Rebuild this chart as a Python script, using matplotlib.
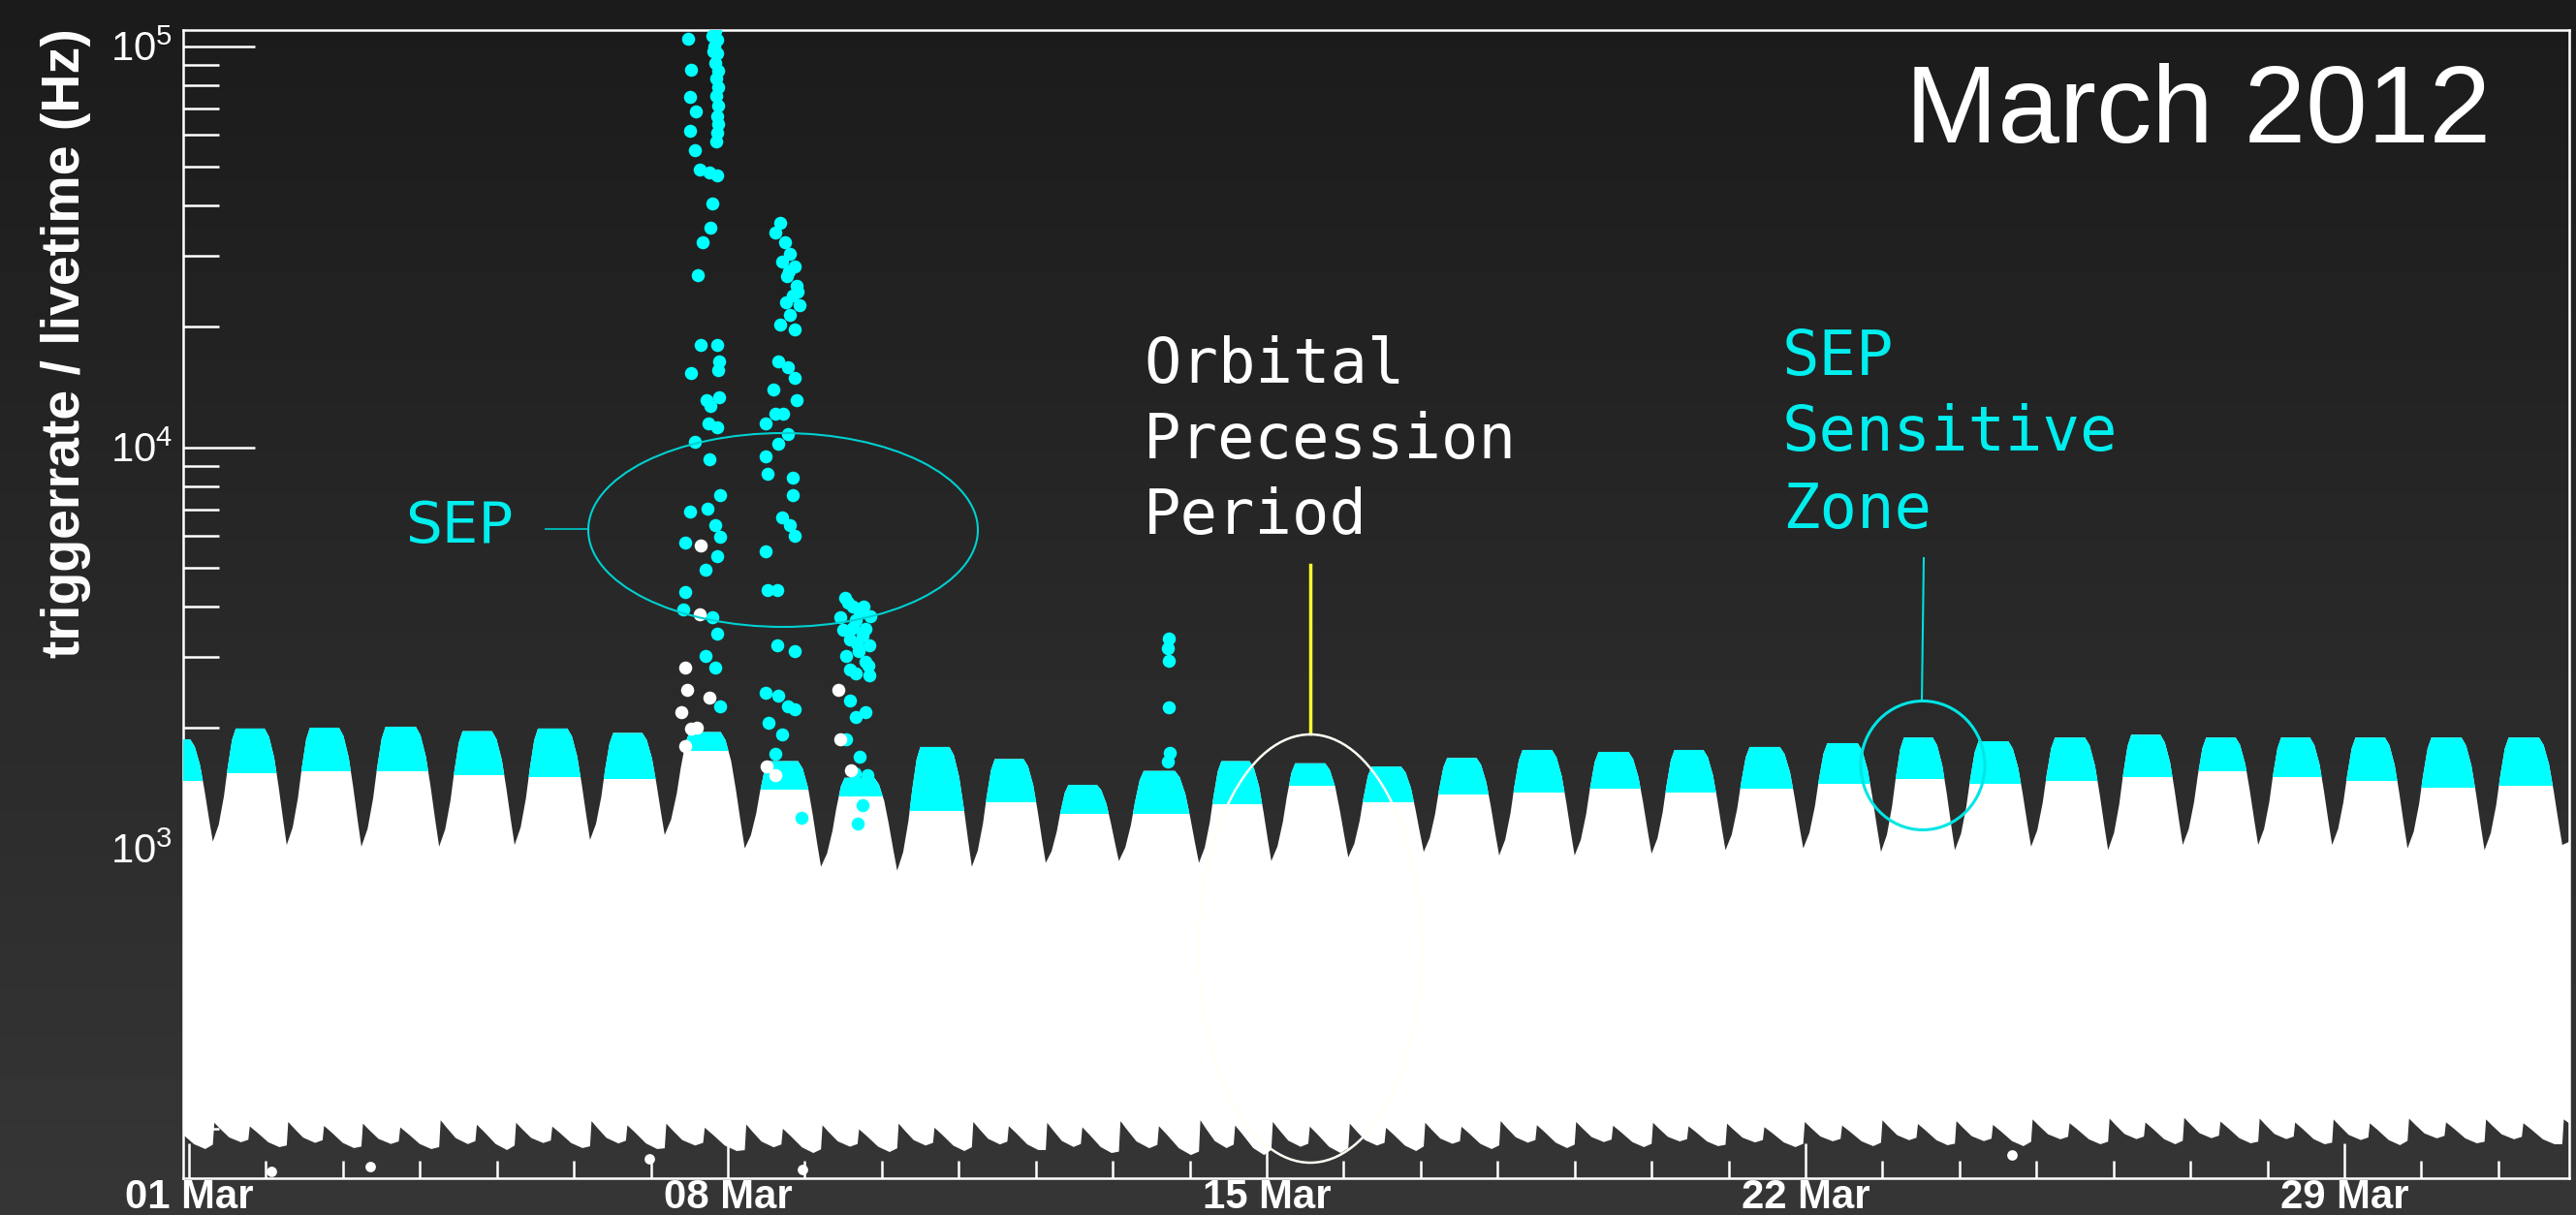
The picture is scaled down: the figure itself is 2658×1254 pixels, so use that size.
import numpy as np
import matplotlib
matplotlib.use('Agg')
import matplotlib.pyplot as plt
from matplotlib.patches import Ellipse, Polygon
from matplotlib.lines import Line2D
from matplotlib.colors import LinearSegmentedColormap
from matplotlib.ticker import FixedLocator, LogLocator, NullFormatter

plt.rcParams['font.family'] = 'Liberation Sans'
plt.rcParams['mathtext.fontset'] = 'custom'
plt.rcParams['mathtext.rm'] = 'Liberation Sans'
plt.rcParams['mathtext.it'] = 'Liberation Sans:italic'
plt.rcParams['mathtext.bf'] = 'Liberation Sans:bold'

W, H = 2658, 1254

# x = days since 01 Mar 2012 00:00, y = trigger rate / livetime in Hz
tick_days = [0, 7, 14, 21, 28]
tick_labels = ['01 Mar', '08 Mar', '15 Mar', '22 Mar', '29 Mar']
day_ticks = list(range(31))

# dips of the daily modulation (the first one lies left of the frame)
trough_day = [-0.67, 0.31, 1.27, 2.24, 3.25, 4.23, 5.21, 6.18, 7.22, 8.21, 9.20,
              10.17, 11.13, 12.08, 13.12, 14.06, 15.06, 16.04, 17.02, 18.00, 19.00,
              19.96, 20.97, 21.98, 22.94, 23.93, 24.93, 25.90, 26.88, 27.84, 28.82,
              29.82, 30.83]
trough_hz = [1040, 1040, 1020, 1010, 1010, 1020, 1050, 1080, 1000, 900, 880,
             900, 920, 930, 920, 930, 950, 980, 960, 960, 970,
             990, 1000, 980, 990, 1010, 990, 1020, 1020, 1020, 1000,
             990, 1020]
# one hump between two dips: top of the band and the level where it turns cyan
peak_hz = [1870, 1990, 2000, 2010, 1960, 1990, 1940, 1950, 1650, 1500, 1790,
           1670, 1440, 1560, 1650, 1630, 1600, 1680, 1760, 1740, 1760,
           1790, 1830, 1890, 1850, 1890, 1920, 1890, 1890, 1890, 1890, 1890]
cyan_hz = [1470, 1540, 1560, 1560, 1520, 1510, 1490, 1750, 1400, 1350, 1240,
           1300, 1220, 1220, 1290, 1430, 1300, 1360, 1380, 1410, 1380,
           1410, 1450, 1490, 1450, 1470, 1510, 1560, 1510, 1470, 1420, 1430]
# lower edge of the band
floor_hi = [205, 207, 208, 206, 210, 207, 209, 206, 205, 204, 206, 208, 207, 209, 210, 208,
            206, 207, 209, 208, 207, 206, 208, 210, 209, 211, 212, 213, 212, 211, 212, 211]
floor_lo = [178, 180, 179, 178, 177, 179, 178, 176, 174, 175, 176, 177, 174, 172, 172, 174,
            176, 178, 179, 180, 181, 180, 181, 182, 181, 183, 183, 184, 183, 182, 184, 183]

# solar energetic particle events (cyan points)
sep1_day = [6.84, 6.86, 6.82, 6.86, 6.84, 6.87, 6.85, 6.87, 6.85, 6.88, 6.86, 6.88, 6.86, 6.85,
            6.81, 6.80, 6.48, 6.52, 6.51, 6.59, 6.51, 6.57, 6.63, 6.76, 6.86, 6.80, 6.77, 6.67,
            6.61, 6.65, 6.86, 6.89, 6.52, 6.89, 6.77, 6.86, 6.57, 6.76, 6.90, 6.51, 6.74, 6.84,
            6.45, 6.90, 6.71, 6.86, 6.45, 6.42, 6.80, 6.86, 6.71, 6.84, 6.90, 6.88, 6.72, 6.75]
sep1_hz = [109000, 104000, 100000, 96000, 91000, 87000, 83000, 79000, 75000, 71000, 67000,
           64000, 61000, 58000, 97000, 106000, 104400, 87400, 74800, 68800, 61500, 55100,
           49300, 48500, 47600, 40600, 35300, 32500, 26900, 18000, 18000, 16400, 15300,
           13300, 12700, 11200, 10300, 9340, 7600, 6920, 7030, 6400, 5790, 5980, 4950, 5350,
           4360, 3940, 3770, 3430, 3020, 2820, 2260, 15600, 13100, 11500]
sep2_day = [7.68, 7.62, 7.74, 7.81, 7.87, 7.77, 7.89, 7.84, 7.93, 7.81, 7.68, 7.87, 7.71, 7.79,
            7.90, 7.75, 7.65, 7.78, 7.87, 7.59, 7.89, 7.62, 7.72, 7.49, 7.78, 7.49, 7.65, 7.52,
            7.84, 7.84, 7.70, 7.81, 7.87, 7.49, 7.52, 7.64, 7.64, 7.87, 7.49, 7.65, 7.78, 7.87,
            7.53, 7.70, 7.62, 7.74, 7.87, 7.96]
sep2_hz = [36300, 34300, 32500, 30400, 28300, 26700, 25300, 23900, 22600, 21400, 20200, 19700,
           29000, 27500, 24500, 23000, 16400, 15800, 14900, 13900, 13100, 12100, 12100, 11500,
           10800, 9500, 10200, 8600, 8400, 7600, 6700, 6400, 6000, 5500, 4400, 4400, 3200,
           3100, 2440, 2400, 2260, 2220, 2060, 1920, 1720, 1590, 1490, 1190]
sep3_day = [8.52, 8.62, 8.71, 8.79, 8.84, 8.79, 8.84, 8.46, 8.59, 8.54, 8.66, 8.59, 8.66, 8.79,
            8.54, 8.71, 8.65, 8.81, 8.59, 8.75, 8.69, 8.56, 8.66, 8.75, 8.70, 8.82, 8.50, 8.62,
            8.85, 8.76, 8.68, 8.58]
sep3_hz = [4210, 4010, 3900, 3530, 3210, 2920, 2700, 3770, 3320, 3020, 2730, 2340, 2130, 2190,
           1870, 1690, 1540, 1520, 1400, 1280, 1150, 4100, 3700, 3400, 3100, 2850, 3500, 3550,
           3800, 4000, 3250, 2800]
sep4_day = [12.73, 12.72, 12.73, 12.73, 12.74, 12.72]
sep4_hz = [3340, 3150, 2940, 2250, 1730, 1650]
# white points standing out of the band during the events
white_day = [6.65, 6.63, 6.45, 6.47, 6.40, 6.76, 6.60, 6.52, 6.45, 6.55, 7.50, 7.62, 8.46, 8.60, 8.44]
white_hz = [5690, 3840, 2820, 2490, 2190, 2380, 2000, 1990, 1800, 1600, 1600, 1520, 1870, 1570, 2490]
# isolated points below the band
stray_day = [1.07, 2.36, 5.98, 7.97, 23.68]
stray_hz = [157, 161, 168, 158, 172]

CYAN = '#00ffff'

# shape of one hump: fraction of the dip-to-dip interval, fraction of the (log) rise
up_f = [0, .08, .15, .20, .26, .31, .70, .76, .83, .89, .95]
up_l = [0, .15, .40, .65, .90, 1, 1, .93, .75, .50, .22]
fl_f = [0, .02, .10, .22, .38, .48, .50, .60, .75, .90]
fl_w = [.1, 1, .75, .4, .2, .3, .85, .6, .2, 0]

fig = plt.figure(figsize=(W / 100, H / 100), dpi=100)

bg = fig.add_axes([0, 0, 1, 1])
cm = LinearSegmentedColormap.from_list('bg', ['#1b1b1b', '#363636'])
bg.imshow(np.linspace(0, 1, 256).reshape(-1, 1), aspect='auto', cmap=cm,
          extent=[0, 1, 0, 1], origin='upper')
bg.set_axis_off()

L, R, T, B = 189, 2651, 31, 1216
ax = fig.add_axes([L / W, 1 - B / H, (R - L) / W, (B - T) / H])
ax.set_facecolor('none')
ax.set_yscale('log')
ax.set_xlim(-0.0755, 30.92)
ax.set_ylim(150.6, 1.097e5)

top_x, top_y, bot_x, bot_y = [], [], [], []
humps = []
for k in range(len(peak_hz)):
    t0, t1 = trough_day[k], trough_day[k + 1]
    hx, hy = [], []
    for f, l in zip(up_f, up_l):
        v = trough_hz[k] if f < 0.5 else trough_hz[k + 1]
        hx.append(t0 + f * (t1 - t0))
        hy.append(v * (peak_hz[k] / v) ** l)
    hx.append(t1)
    hy.append(trough_hz[k + 1])
    humps.append((hx, hy))
    top_x += hx[:-1]
    top_y += hy[:-1]
    for f, w in zip(fl_f, fl_w):
        bot_x.append(t0 + f * (t1 - t0))
        bot_y.append(floor_lo[k] * (floor_hi[k] / floor_lo[k]) ** w)
top_x += [trough_day[-1], 31.3]
top_y += [trough_hz[-1], trough_hz[-1] * 1.1]
bot_x += [trough_day[-1], trough_day[-1] + 0.02, 31.3]
bot_y += [floor_lo[-1], floor_hi[-1], floor_lo[-1]]

band = Polygon(np.column_stack([top_x + bot_x[::-1], top_y + bot_y[::-1]]),
               closed=True, fc='white', ec='none', zorder=2)
ax.add_patch(band)

for k, (hx, hy) in enumerate(humps):
    cap = Polygon(list(zip(hx, hy)) + [(hx[-1], 100), (hx[0], 100)], closed=True,
                  fc=CYAN, ec='none', zorder=3)
    ax.add_patch(cap)
    clip = Polygon([(hx[0], cyan_hz[k]), (hx[-1], cyan_hz[k]), (hx[-1], 1e7), (hx[0], 1e7)],
                   closed=True, transform=ax.transData)
    cap.set_clip_path(clip)

for d, v in [(sep1_day, sep1_hz), (sep2_day, sep2_hz), (sep3_day, sep3_hz), (sep4_day, sep4_hz)]:
    ax.scatter(d, v, s=95, c=CYAN, linewidths=0, zorder=4)
ax.scatter(white_day, white_hz, s=95, c='white', linewidths=0, zorder=4)
ax.scatter(stray_day, stray_hz, s=60, c='white', linewidths=0, zorder=4)

for s in ax.spines.values():
    s.set_color('white')
    s.set_linewidth(1.8)

ax.yaxis.set_major_locator(LogLocator(base=10, numticks=10))
ax.yaxis.set_minor_locator(LogLocator(base=10, subs=range(2, 10), numticks=30))
ax.yaxis.set_minor_formatter(NullFormatter())
ax.tick_params(axis='y', which='major', direction='in', length=53, width=1.8,
               colors='white', labelsize=30.2, pad=8)
ax.tick_params(axis='y', which='minor', direction='in', length=26.6, width=1.8, colors='white')

ax.xaxis.set_major_locator(FixedLocator(tick_days))
ax.xaxis.set_minor_locator(FixedLocator(day_ticks))
ax.set_xticklabels(tick_labels, fontweight='bold')
ax.tick_params(axis='x', which='major', direction='in', length=25.6, width=1.8,
               colors='white', labelsize=30.2, pad=0)
ax.tick_params(axis='x', which='minor', direction='in', length=12.8, width=1.8, colors='white')


def fx(x):
    return x / W


def fy(y):
    return 1 - y / H


fig.text(fx(68), fy(354), 'triggerrate / livetime (Hz)', rotation=90, ha='center',
         va='center', fontsize=40, fontweight='bold', color='white')
fig.text(fx(2570), fy(147), 'March 2012', ha='right', va='baseline', fontsize=82.4,
         color='white')

fig.text(fx(418), fy(560), 'SEP', ha='left', va='baseline', fontsize=42.8,
         family='DejaVu Sans', color='#00eeee')
fig.add_artist(Line2D([fx(563), fx(607)], [fy(546), fy(546)], color='#00b4b4', lw=1.4))
fig.add_artist(Ellipse((fx(808), fy(547)), 402 / W, 200 / H, fill=False,
                       ec='#00d0d0', lw=1.5, transform=fig.transFigure, zorder=6))

for line, y in zip(['Orbital', 'Precession', 'Period'], [395, 473, 551]):
    fig.text(fx(1180), fy(y), line, ha='left', va='baseline', fontsize=46,
             family='DejaVu Sans Mono', color='white')
fig.add_artist(Line2D([fx(1352), fx(1352)], [fy(583), fy(757)], color='#ffff30', lw=2.5))
fig.add_artist(Ellipse((fx(1352), fy(979)), 230 / W, 442 / H, fill=False,
                       ec='#fffff4', lw=1.8, transform=fig.transFigure, zorder=6))

for line, y in zip(['SEP', 'Sensitive', 'Zone'], [387, 465, 545]):
    fig.text(fx(1839), fy(y), line, ha='left', va='baseline', fontsize=46,
             family='DejaVu Sans Mono', color='#00eeee')
fig.add_artist(Line2D([fx(1985), fx(1983)], [fy(576), fy(724)], color='#00dede', lw=1.5))
fig.add_artist(Ellipse((fx(1984), fy(790)), 128 / W, 133 / H, fill=False,
                       ec='#00e5e5', lw=2.2, transform=fig.transFigure, zorder=6))

fig.savefig('out.png', dpi=100)
